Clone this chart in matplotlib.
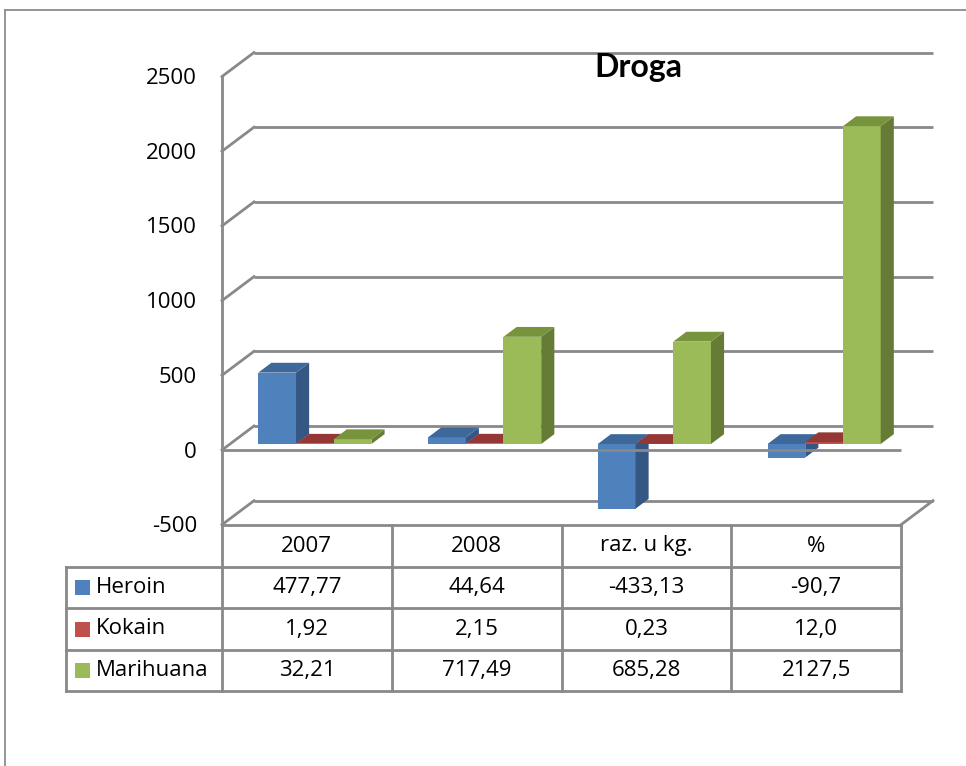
import matplotlib
matplotlib.use("Agg")
import matplotlib.pyplot as plt
from matplotlib.patches import Polygon, Rectangle

plt.rcParams['font.family'] = ['Open Sans', 'DejaVu Sans']

# ---- data ----
title = "Droga"
categories = ["2007", "2008", "raz. u kg.", "%"]
series_names = ["Heroin", "Kokain", "Marihuana"]
heroin = [477.77, 44.64, -433.13, -90.7]
kokain = [1.92, 2.15, 0.23, 12.0]
marihuana = [32.21, 717.49, 685.28, 2127.5]
decimals = [2, 2, 2, 1]
y_ticks = [-500, 0, 500, 1000, 1500, 2000, 2500]

series_values = [heroin, kokain, marihuana]
front_cols = ["#4F81BD", "#C0504D", "#9BBB59"]
top_cols = ["#3D6899", "#953735", "#77933C"]
side_cols = ["#355784", "#7F2E2C", "#667B36"]

# ---- layout (pixels) ----
W, H = 966, 766
DPI = 100
FRONT_LEFT = 222.0
XPX = 169.75            # px per category
ZERO_PX = 450.0
VPP = 500.0 / 74.7      # value units per px
DX = 32.0 / XPX         # full depth offset in x data units
DY = 24.0 * VPP         # full depth offset in value units
F0, F1 = 0.25, 0.66     # bar depth range (fraction of floor depth)
GRID = "#898989"
FS = 16

def ypx(p):
    return (ZERO_PX - p) * VPP

def xpx(p):
    return (p - FRONT_LEFT) / XPX

fig = plt.figure(figsize=(W / DPI, H / DPI), dpi=DPI)
ax = fig.add_axes([0, 0, 1, 1])
ax.set_xlim(xpx(0), xpx(W))
ax.set_ylim(ypx(H), ypx(0))
ax.axis('off')

n = len(categories)
vmin, vmax = y_ticks[0], y_ticks[-1]

# outer chart frame
fig.add_artist(plt.Line2D([5 / W, 5 / W], [0, 1 - 10 / H], color="#8C8C8C", lw=1.3))
fig.add_artist(plt.Line2D([5 / W, 1], [1 - 10 / H, 1 - 10 / H], color="#8C8C8C", lw=1.3))

# walls: back gridlines and left side wall
for v in y_ticks:
    ax.plot([DX, n + DX], [v + DY, v + DY], color=GRID, lw=2.0, zorder=1,
            solid_capstyle='butt')
    ax.plot([0, DX], [v, v + DY], color=GRID, lw=2.0, zorder=1)
    ax.text(xpx(197), v - 2 * VPP, str(v), ha='right', va='center', fontsize=FS,
            color='black')
ax.plot([0, 0], [vmin, vmax], color=GRID, lw=2.0, zorder=1)
# bottom right diagonal
ax.plot([n, n + DX], [vmin, vmin + DY], color=GRID, lw=2.0, zorder=1)

# bars
bw = 1.0 / 4.5
for i in range(n):
    for j, vals in enumerate(series_values):
        v = vals[i]
        xl = i + 0.75 * bw + j * bw
        xr = xl + bw
        lo, hi = min(v, 0), max(v, 0)
        # front face
        ax.add_patch(Rectangle((xl + F0 * DX, lo + F0 * DY), bw, hi - lo,
                               facecolor=front_cols[j], edgecolor='none', zorder=3))
        # side face
        ax.add_patch(Polygon([(xr + F0 * DX, lo + F0 * DY), (xr + F1 * DX, lo + F1 * DY),
                              (xr + F1 * DX, hi + F1 * DY), (xr + F0 * DX, hi + F0 * DY)],
                             closed=True, facecolor=side_cols[j], edgecolor='none', zorder=3))
        # top face
        ax.add_patch(Polygon([(xl + F0 * DX, hi + F0 * DY), (xr + F0 * DX, hi + F0 * DY),
                              (xr + F1 * DX, hi + F1 * DY), (xl + F1 * DX, hi + F1 * DY)],
                             closed=True, facecolor=top_cols[j], edgecolor='none', zorder=3))

# floor front edge at 0
ax.plot([0, n], [0, 0], color=GRID, lw=2.0, zorder=4, solid_capstyle='butt')

# ---- data table ----
row_edges = [525, 567, 608, 650, 691]
legend_left = 66
# horizontal lines
ax.plot([0, n], [ypx(row_edges[0])] * 2, color=GRID, lw=2.0, zorder=4)
for r in row_edges[1:]:
    ax.plot([xpx(legend_left), n], [ypx(r)] * 2, color=GRID, lw=2.0, zorder=4)
# vertical lines
ax.plot([xpx(legend_left)] * 2, [ypx(row_edges[1]), ypx(row_edges[-1])], color=GRID, lw=2.0)
for k in range(n + 1):
    ax.plot([k, k], [ypx(row_edges[0]), ypx(row_edges[-1])], color=GRID, lw=2.0)

def centre(a, b):
    return ypx((a + b) / 2.0)

for i, c in enumerate(categories):
    ax.text(i + 0.5, centre(row_edges[0], row_edges[1]), c, ha='center', va='center',
            fontsize=FS)

for j, (name, vals) in enumerate(zip(series_names, series_values)):
    ytop, ybot = row_edges[j + 1], row_edges[j + 2]
    yc = (ytop + ybot) / 2.0
    ax.add_patch(Rectangle((xpx(75), ypx(yc + 7.5)), 15 / XPX, 15 * VPP,
                           facecolor=front_cols[j], edgecolor='none'))
    ax.text(xpx(96), ypx(yc), name, ha='left', va='center', fontsize=FS)
    for i, v in enumerate(vals):
        s = f"{v:.{decimals[i]}f}".replace('.', ',')
        ax.text(i + 0.5, ypx(yc), s, ha='center', va='center', fontsize=FS)

# title
ax.text(xpx(638), ypx(68), title, ha='center', va='center', fontsize=23,
        fontweight='bold', family=['Lato', 'DejaVu Sans'])

fig.savefig("out.png", dpi=DPI)
